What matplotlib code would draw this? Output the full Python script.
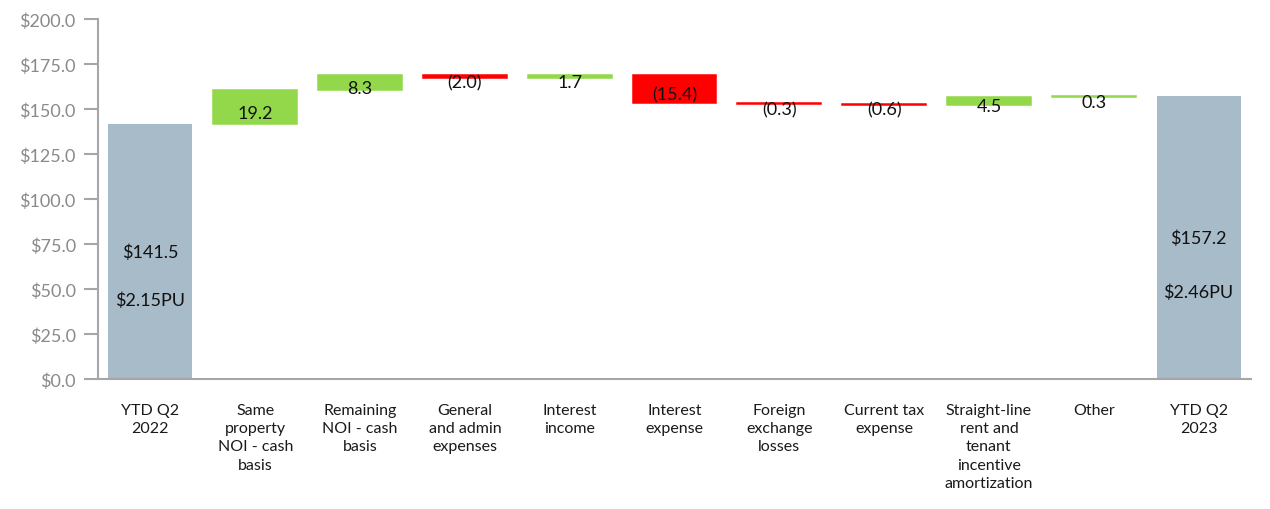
import matplotlib
matplotlib.use("Agg")
import matplotlib.pyplot as plt
import numpy as np

categories = ["YTD Q2\n2022", "Same\nproperty\nNOI - cash\nbasis", "Remaining\nNOI - cash\nbasis",
              "General\nand admin\nexpenses", "Interest\nincome", "Interest\nexpense",
              "Foreign\nexchange\nlosses", "Current tax\nexpense",
              "Straight-line\nrent and\ntenant\nincentive\namortization", "Other", "YTD Q2\n2023"]
start_value = 141.5
deltas = [19.2, 8.3, -2.0, 1.7, -15.4, -0.3, -0.6, 4.5, 0.3]
end_value = 157.2
total_labels = ["$141.5", "$157.2"]
pu_labels = ["$2.15PU", "$2.46PU"]
yticks = [0, 25, 50, 75, 100, 125, 150, 175, 200]

plt.rcParams['font.family'] = ['Lato', 'DejaVu Sans']
plt.rcParams['font.weight'] = 'normal'

fig = plt.figure(figsize=(12.7, 5.1), dpi=100)
ax = fig.add_axes([98/1270, 1 - 380/510, (1251 - 98)/1270, 360/510])

total_color = "#A7BBC8"
green = "#92D84A"
red = "#FF0000"
w = 0.8

ax.bar(0, start_value, width=w, color=total_color)
running = start_value
for i, d in enumerate(deltas, start=1):
    bottom = running if d >= 0 else running + d
    col = green if d >= 0 else red
    ax.bar(i, abs(d), bottom=bottom, width=w, color=col, edgecolor=col, linewidth=1.1)
    lbl = f"{d:.1f}" if d >= 0 else f"({abs(d):.1f})"
    ax.annotate(lbl, (i, bottom + abs(d) / 2), xytext=(0, -4), textcoords="offset points",
                ha="center", va="center", fontsize=13, color="#111111")
    running += d
n = len(deltas) + 1
ax.bar(n, end_value, width=w, color=total_color)

for xi, h, tl, pl in [(0, start_value, total_labels[0], pu_labels[0]),
                      (n, end_value, total_labels[1], pu_labels[1])]:
    ax.text(xi, h * 0.5, tl, ha="center", va="center", fontsize=13, color="#111111")
    ax.text(xi, h * 0.31, pl, ha="center", va="center", fontsize=13, color="#111111")

ax.set_xlim(-0.5, n + 0.5)
ax.set_ylim(0, 200)
ax.set_yticks(yticks)
ax.set_yticklabels([f"${v:.1f}" for v in yticks])
ax.set_xticks(range(len(categories)))
ax.set_xticklabels(categories, fontsize=11.5, linespacing=1.4, va="top", color="#1a1a1a")
ax.tick_params(axis="x", length=0, pad=17)
ax.tick_params(axis="y", length=10, width=1.5, color="#A6A6A6", labelcolor="#8A8A8A",
               labelsize=13, pad=6)
for s in ["top", "right"]:
    ax.spines[s].set_visible(False)
for s in ["left", "bottom"]:
    ax.spines[s].set_color("#A6A6A6")
    ax.spines[s].set_linewidth(1.5)

fig.savefig("out.png", dpi=100)
